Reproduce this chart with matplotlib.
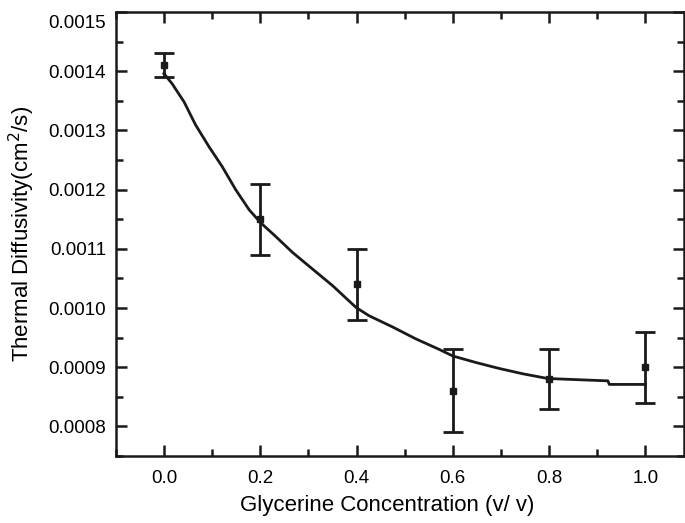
import numpy as np
import matplotlib
matplotlib.use("Agg")
import matplotlib.pyplot as plt
import matplotlib.transforms as mtransforms
from matplotlib.ticker import MultipleLocator, FormatStrFormatter

# measured points with error bars
conc = [0.0, 0.2, 0.4, 0.6, 0.8, 1.0]
diff = [0.00141, 0.00115, 0.00104, 0.00086, 0.00088, 0.00090]
err = [0.00002, 0.00006, 0.00006, 0.00007, 0.00005, 0.00006]

# fitted curve
fit_x = [0.0, 0.017, 0.042, 0.066, 0.094, 0.121, 0.149, 0.177, 0.201, 0.232,
         0.267, 0.301, 0.350, 0.399, 0.426, 0.475, 0.523, 0.572, 0.600, 0.648,
         0.696, 0.745, 0.797, 0.922, 0.925, 1.0]
fit_y = [0.001396, 0.001379, 0.001348, 0.001309, 0.001272, 0.001239, 0.001200,
         0.001166, 0.001144, 0.001121, 0.001094, 0.001071, 0.001038, 0.001001,
         0.000987, 0.000968, 0.000948, 0.000930, 0.000919, 0.000908, 0.000898,
         0.000889, 0.000881, 0.000877, 0.000871, 0.000871]

plt.rcParams['font.family'] = ['Liberation Sans', 'DejaVu Sans']

fig = plt.figure(figsize=(6.85, 5.23), dpi=100)
ax = fig.add_axes([0.169, 0.128, 0.8295, 0.849])

ax.plot(fit_x, fit_y, color='#1a1a1a', linewidth=2.0)
ax.errorbar(conc, diff, yerr=err, fmt='s', color='#1a1a1a', markersize=4,
            elinewidth=2.0, capsize=7.5, capthick=2.0)

ax.set_xlim(-0.1, 1.08)
ax.set_ylim(0.00075, 0.0015)
ax.xaxis.set_major_locator(MultipleLocator(0.2))
ax.xaxis.set_minor_locator(MultipleLocator(0.1))
ax.yaxis.set_major_locator(MultipleLocator(0.0001))
ax.yaxis.set_minor_locator(MultipleLocator(0.00005))
ax.xaxis.set_major_formatter(FormatStrFormatter('%.1f'))
ax.yaxis.set_major_formatter(FormatStrFormatter('%.4f'))

ax.tick_params(which='both', direction='in', top=True, right=True,
               width=1.8, labelsize=13.5, color='#1a1a1a')
ax.tick_params(which='major', length=8)
ax.tick_params(which='minor', length=5)
ax.tick_params(axis='x', pad=10)
ax.tick_params(axis='y', pad=7)
for s in ax.spines.values():
    s.set_linewidth(1.8)
    s.set_color('#1a1a1a')

ax.set_xlabel('Glycerine Concentration (v/ v)', fontsize=16, labelpad=6, x=0.477)
ax.set_ylabel('Thermal Diffusivity(cm$^2$/s)', fontsize=16, labelpad=8)

# the top label sits a little below the top spine in the original
fig.canvas.draw()
for lab in ax.get_yticklabels():
    if lab.get_text() == '0.0015':
        off = mtransforms.ScaledTranslation(0, -7 / 72, fig.dpi_scale_trans)
        lab.set_transform(lab.get_transform() + off)

fig.savefig('out.png', dpi=100)
